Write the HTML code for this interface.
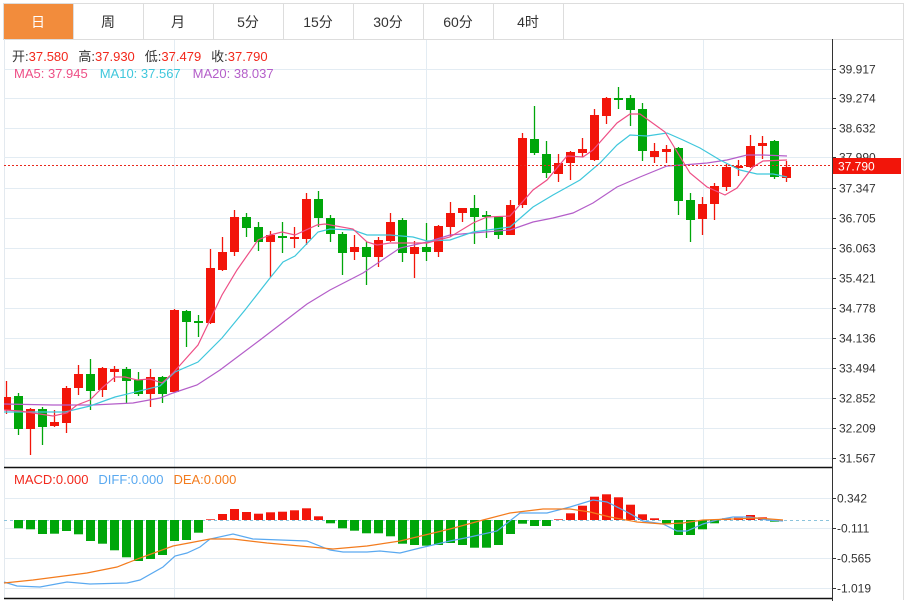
<!DOCTYPE html>
<html><head><meta charset="utf-8">
<style>
html,body{margin:0;padding:0;background:#fff;width:908px;height:601px;overflow:hidden;font-family:"Liberation Sans","Noto Sans CJK SC",sans-serif;}
svg{position:absolute;left:0;top:0}
</style></head>
<body>
<svg id="s" width="908" height="601" viewBox="0 0 908 601" xmlns="http://www.w3.org/2000/svg" font-family="Liberation Sans, Noto Sans CJK SC, sans-serif">
<!-- tabs -->
<rect x="3.5" y="3.5" width="900" height="36" fill="#fff" stroke="#ddd"/>
<rect x="4" y="4" width="69" height="35" fill="#f28c3c"/>
<g stroke="#ddd"><line x1="73.5" y1="4" x2="73.5" y2="39"/><line x1="143.5" y1="4" x2="143.5" y2="39"/><line x1="213.5" y1="4" x2="213.5" y2="39"/><line x1="283.5" y1="4" x2="283.5" y2="39"/><line x1="353.5" y1="4" x2="353.5" y2="39"/><line x1="423.5" y1="4" x2="423.5" y2="39"/><line x1="493.5" y1="4" x2="493.5" y2="39"/><line x1="563.5" y1="4" x2="563.5" y2="39"/></g>
<g font-size="14" text-anchor="middle" fill="#333">
<text x="38" y="27" fill="#fff">日</text><text x="108" y="27">周</text><text x="178" y="27">月</text><text x="248" y="27">5分</text><text x="318" y="27">15分</text><text x="388" y="27">30分</text><text x="458" y="27">60分</text><text x="528" y="27">4时</text>
</g>
<line x1="903.5" y1="39" x2="903.5" y2="600" stroke="#ddd"/>
<line x1="4.5" y1="39" x2="4.5" y2="598" stroke="#e3e9ef"/>
<g id="grid" stroke="#e3ecf3" stroke-width="1"></g>
<g id="mains"></g>
<!-- axes lines -->
<line x1="832.5" y1="39" x2="832.5" y2="601" stroke="#333"/>
<line x1="4" y1="467.5" x2="832" y2="467.5" stroke="#111" stroke-width="1.5"/>
<line x1="4" y1="598.5" x2="832" y2="598.5" stroke="#111" stroke-width="1.5"/>
<g id="axis" font-size="12" fill="#333"></g>
<!-- current price -->
<line x1="4" y1="165.5" x2="832" y2="165.5" stroke="#e8281c" stroke-dasharray="2,2"/>
<rect x="833" y="158" width="68" height="16" fill="#f2150a"/>
<text x="838" y="170.5" font-size="12" fill="#fff">37.790</text>
<!-- legends -->
<g font-size="13">
<text x="12" y="61"><tspan fill="#333">开:</tspan><tspan fill="#f2281c">37.580</tspan><tspan fill="#333" dx="10">高:</tspan><tspan fill="#f2281c">37.930</tspan><tspan fill="#333" dx="10">低:</tspan><tspan fill="#f2281c">37.479</tspan><tspan fill="#333" dx="10">收:</tspan><tspan fill="#f2281c">37.790</tspan></text>
<text x="14" y="78"><tspan fill="#ee4f86">MA5: 37.945</tspan><tspan fill="#3fc7dc" dx="12">MA10: 37.567</tspan><tspan fill="#b45ec9" dx="12">MA20: 38.037</tspan></text>
<text x="14" y="484"><tspan fill="#f2281c">MACD:0.000</tspan><tspan fill="#5aa9f0" dx="10">DIFF:0.000</tspan><tspan fill="#f37b1d" dx="10">DEA:0.000</tspan></text>
</g>
</svg>
<script>
var NS="http://www.w3.org/2000/svg";
function el(p,t,a){var e=document.createElementNS(NS,t);for(var k in a)e.setAttribute(k,a[k]);p.appendChild(e);return e;}
var g=document.getElementById('grid'),m=document.getElementById('mains'),ax=document.getElementById('axis');
var ticks=[["39.917",69],["39.274",98],["38.632",128],["37.990",157],["37.347",188],["36.705",218],["36.063",248],["35.421",278],["34.778",308],["34.136",338],["33.494",368],["32.852",398],["32.209",428],["31.567",458]];
ticks.forEach(function(t){el(g,'line',{x1:4,x2:832,y1:t[1]+.5,y2:t[1]+.5});el(ax,'line',{x1:832,x2:836,y1:t[1]+.5,y2:t[1]+.5,stroke:'#333'});var tx=el(ax,'text',{x:839,y:t[1]+4.5});tx.textContent=t[0];});
var mt=[["0.342",498],["-0.111",528],["-0.565",558],["-1.019",588]];
mt.forEach(function(t){el(g,'line',{x1:4,x2:832,y1:t[1]+.5,y2:t[1]+.5});el(ax,'line',{x1:832,x2:836,y1:t[1]+.5,y2:t[1]+.5,stroke:'#333'});var tx=el(ax,'text',{x:837,y:t[1]+4.5});tx.textContent=t[0];});
[174,426,703].forEach(function(x){el(g,'line',{x1:x+.5,x2:x+.5,y1:40,y2:598});});
el(m,'line',{x1:4,x2:832,y1:520.5,y2:520.5,stroke:'#8cc4dc','stroke-dasharray':'3,3'});
var R='#f2150a',G='#00a60a';
// [bodyTop,bodyBot,wickTop,wickBot,color]
var C=[[397,410,381,414,R],[396,429,393,435,G],[409,429,408,455,R],[409,427,407,445,G],[422,426,410,427,R],[388,423,386,433,R],[374,388,365,395,R],[374,391,359,410,G],[368,390,367,397,R],[369,372,366,382,R],[369,381,367,403,G],[380,394,372,396,G],[377,394,369,407,R],[377,394,376,403,G],[310,392,309,393,R],[311,322,310,347,G],[321,323,315,337,G],[268,323,249,324,R],[252,270,237,271,R],[217,252,210,256,R],[217,228,213,237,G],[227,242,222,251,G],[235,242,231,277,R],[236,238,222,253,G],[237,239,227,248,R],[199,239,193,245,R],[199,218,191,227,G],[218,234,215,242,G],[234,253,232,275,G],[247,252,235,260,R],[247,257,242,285,G],[240,257,237,267,R],[222,241,213,242,R],[220,253,218,262,G],[247,254,241,278,R],[247,252,223,261,G],[226,252,225,257,R],[213,227,202,237,R],[208,213,208,222,R],[208,217,195,244,G],[215,217,211,238,G],[217,235,216,239,G],[205,235,200,235,R],[138,205,133,208,R],[139,153,106,155,G],[154,173,141,178,G],[163,174,154,182,R],[152,163,151,180,R],[149,153,138,157,R],[115,160,109,161,R],[98,116,97,124,R],[98,100,87,109,G],[98,110,95,126,G],[109,151,103,161,G],[151,157,143,163,R],[149,152,145,163,R],[148,201,147,215,G],[200,220,193,242,G],[204,219,197,235,R],[186,204,183,220,R],[167,187,164,191,R],[166,168,160,176,R],[146,167,135,168,R],[143,146,136,159,R],[141,177,140,179,G],[167,178,161,182,R]];
var H=[520,528.3,529.3,534,533.7,531,534.3,541,543.7,550.3,557.3,561,559,555,541,540,532.7,519.3,514,509,512,513.7,512.3,511.7,510.3,508.3,516.3,523.3,528.3,530.7,533.3,533.3,536.3,543.7,545,545.7,545,543,545,547.7,547.7,545,534,523.7,526,526,519.3,513.3,505.7,496.7,494.3,497.3,504.7,514.3,518.3,524.3,535,535,529.3,523.3,518.3,517.7,515,517.3,521.7,520];
function pl(pts,col,w){el(m,'polyline',{points:pts.map(function(p){return p.join(',')}).join(' '),fill:'none',stroke:col,'stroke-width':w||1.2});}
for(var i=0;i<C.length;i++){var x=6.5+12*i,c=C[i];
 var x0=Math.max(4,x-4.5);
 el(m,'line',{x1:x,x2:x,y1:c[2],y2:c[3],stroke:c[4],'stroke-width':1.3});
 el(m,'rect',{x:x0,y:c[0],width:x+4.5-x0,height:Math.max(2,c[1]-c[0]),fill:c[4]});
 var h=H[i];if(Math.abs(h-520)>0.5){var up=h<520;el(m,'rect',{x:x0,y:Math.min(h,520),width:x+4.5-x0,height:Math.abs(h-520),fill:up?R:G});}
}
pl([[4,404],[53,405],[93,405],[133,403],[160,398],[173,393],[197,385],[220,370],[260,340],[307,304],[330,290],[363,273],[400,248],[427,242],[450,235],[473,233],[510,230],[533,222],[553,218],[573,213],[593,203],[617,187],[640,177],[667,166],[683,165],[707,163],[727,160],[747,155],[763,155],[787,156]],'#b45ec9');
pl([[4,412],[20,412],[65,412],[90,406],[115,397],[160,386],[175,372],[198,362],[222,338],[245,310],[270,278],[283,262],[295,256],[318,232],[330,229],[353,230],[367,235],[390,235],[413,237],[427,241],[450,240],[473,232],[510,227],[533,207],[553,195],[580,180],[600,163],[617,145],[630,135],[647,136],[667,133],[683,140],[700,148],[720,160],[740,170],[757,174],[773,174],[787,177]],'#3fc7dc');
pl([[4,410],[20,411],[53,416],[67,413],[77,405],[90,400],[103,387],[115,377],[125,377],[137,380],[150,379],[162,383],[173,373],[198,345],[222,295],[237,270],[258,240],[270,235],[282,232],[295,235],[317,225],[325,224],[353,229],[367,242],[377,245],[390,243],[427,243],[450,237],[473,223],[487,217],[510,216],[533,190],[547,180],[567,156],[583,157],[593,150],[617,123],[630,114],[640,114],[665,132],[690,173],[707,187],[725,195],[737,188],[753,167],[763,161],[787,160]],'#ee4f86');
pl([[4,582],[17,586],[40,587],[67,582],[90,584],[127,583],[140,580],[163,567],[175,556],[187,553],[200,547],[210,539],[233,534],[253,539],[307,541],[330,550],[343,552],[367,552],[380,551],[400,553],[420,548],[450,541],[470,537],[497,531],[520,513],[547,513],[570,507],[593,500],[607,502],[627,512],[643,521],[663,524],[677,531],[687,531],[703,524],[717,520],[733,517],[750,517],[767,520],[783,521]],'#5aa9f0');
pl([[4,583],[33,580],[87,573],[117,567],[140,558],[173,546],[210,539],[233,539],[267,543],[333,549],[367,546],[400,541],[450,529],[483,520],[510,513],[543,509],[570,509],[590,512],[610,517],[637,522],[663,524],[683,523],[703,520],[733,519],[757,518],[783,520]],'#f37b1d');
</script>
</body></html>
